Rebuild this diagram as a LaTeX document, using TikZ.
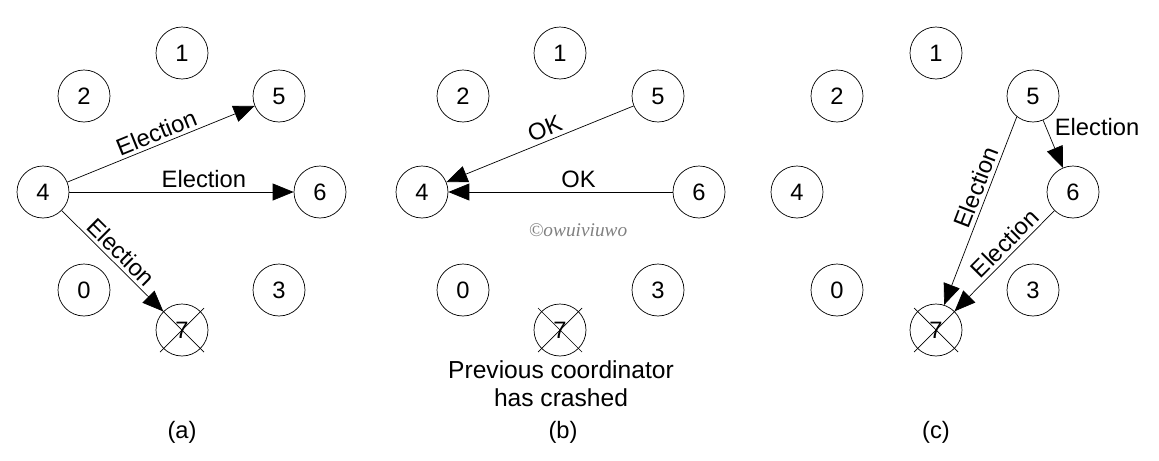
\documentclass[tikz,border=0pt]{standalone}
\usepackage{fontspec}
\setmainfont{Liberation Sans}
\newfontfamily\markfont{Liberation Serif}
\usetikzlibrary{arrows.meta,positioning}
\tikzset{proc/.style={circle,draw,line width=0.4pt,minimum size=1.04cm,inner sep=0pt}}
\tikzset{msg/.style={inner sep=2pt}}
\definecolor{markgray}{HTML}{808080}

\begin{document}
\begin{tikzpicture}[x=0.02cm,y=-0.02cm,>={Triangle[length=0.42cm,width=0.34cm]},font=\fontsize{13.5}{16}\selectfont]
\useasboundingbox (0,0) rectangle (1159,460);
% (a)
\node (a1) [proc] at (182,53) {1};
\node (a2) [proc] at (84,96) {2};
\node (a5) [proc] at (279,96) {5};
\node (a4) [proc] at (43,192) {4};
\node (a6) [proc] at (320,192) {6};
\node (a0) [proc] at (84,290) {0};
\node (a3) [proc] at (279,290) {3};
\node (a7) [proc] at (182,330) {7};
\node (la) at (182,432) {(a)};
% (b)
\node (b1) [proc] at (560,53) {1};
\node (b2) [proc] at (463,96) {2};
\node (b5) [proc] at (658,96) {5};
\node (b4) [proc] at (422,192) {4};
\node (b6) [proc] at (699,192) {6};
\node (b0) [proc] at (463,290) {0};
\node (b3) [proc] at (658,290) {3};
\node (b7) [proc] at (560,330) {7};
\node (crash) [align=center,font=\fontsize{14}{16}\selectfont] at (561,384) {Previous coordinator\\has crashed};
\node (lb) at (563,432) {(b)};
\node (mark) [text=markgray,font=\markfont\itshape\fontsize{11}{12}\selectfont] at (578,230) {©owuiviuwo};
% (c)
\node (c1) [proc] at (936,53) {1};
\node (c2) [proc] at (837,96) {2};
\node (c5) [proc] at (1033,96) {5};
\node (c4) [proc] at (797,192) {4};
\node (c6) [proc] at (1073,192) {6};
\node (c0) [proc] at (837,290) {0};
\node (c3) [proc] at (1033,290) {3};
\node (c7) [proc] at (936,330) {7};
\node (lc) at (936,432) {(c)};
%
\draw[line width=0.4pt] ([shift={(-22,-22)}]a7.center) -- ([shift={(22,22)}]a7.center);
\draw[line width=0.4pt] ([shift={(22,-22)}]a7.center) -- ([shift={(-22,22)}]a7.center);
\draw[line width=0.4pt] ([shift={(-22,-22)}]b7.center) -- ([shift={(22,22)}]b7.center);
\draw[line width=0.4pt] ([shift={(22,-22)}]b7.center) -- ([shift={(-22,22)}]b7.center);
\draw[line width=0.4pt] ([shift={(-22,-22)}]c7.center) -- ([shift={(22,22)}]c7.center);
\draw[line width=0.4pt] ([shift={(22,-22)}]c7.center) -- ([shift={(-22,22)}]c7.center);
%
\path[->,line width=0.4pt](a4) edge node[msg,above,sloped,midway] {Election} (a5);
\path[->,line width=0.4pt](a4) edge node[msg,above,pos=0.6] {Election} (a6);
\path[->,line width=0.4pt](a4) edge node[msg,above,sloped,midway] {Election} (a7);
\path[->,line width=0.4pt](b5) edge node[msg,above,sloped,pos=0.45] {OK} (b4);
\path[->,line width=0.4pt](b6) edge node[msg,above,pos=0.42] {OK} (b4);
\path[->,line width=0.4pt](c5.232) edge node[msg,above,sloped,pos=0.4] {Election} (c7.72);
\path[->,line width=0.4pt](c5) edge node[msg,above right,pos=0.4] {Election} (c6);
\path[->,line width=0.4pt](c6) edge node[msg,above,sloped,pos=0.41] {Election} (c7);
\end{tikzpicture}
\end{document}
